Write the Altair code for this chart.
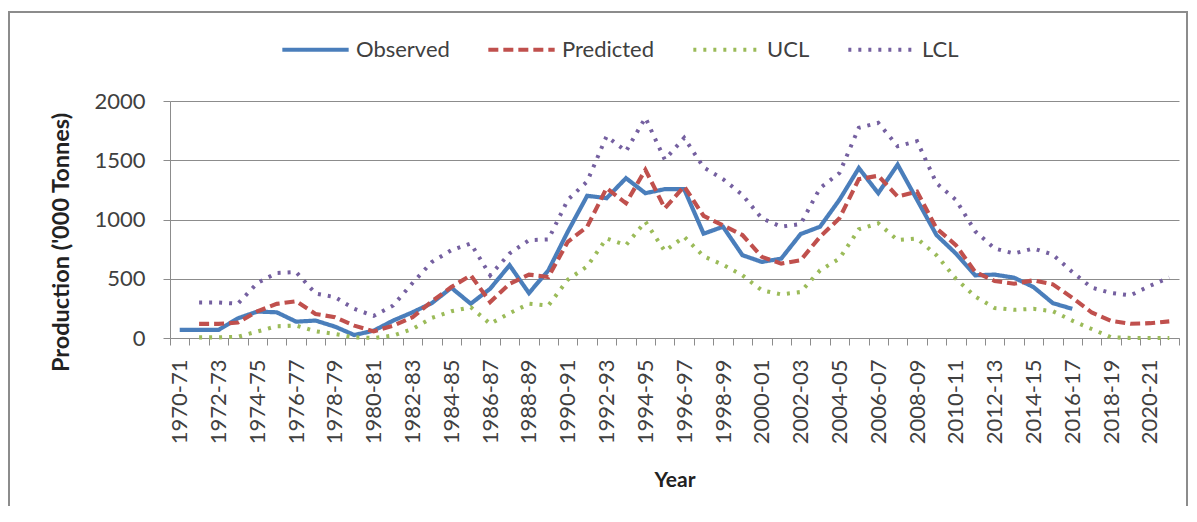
import altair as alt
import pandas as pd

YEARS = ["1970-71", "1971-72", "1972-73", "1973-74", "1974-75", "1975-76", "1976-77", "1977-78",
         "1978-79", "1979-80", "1980-81", "1981-82", "1982-83", "1983-84", "1984-85", "1985-86",
         "1986-87", "1987-88", "1988-89", "1989-90", "1990-91", "1991-92", "1992-93", "1993-94",
         "1994-95", "1995-96", "1996-97", "1997-98", "1998-99", "1999-00", "2000-01", "2001-02",
         "2002-03", "2003-04", "2004-05", "2005-06", "2006-07", "2007-08", "2008-09", "2009-10",
         "2010-11", "2011-12", "2012-13", "2013-14", "2014-15", "2015-16", "2016-17", "2017-18",
         "2018-19", "2019-20", "2020-21", "2021-22"]

# Observed: 1970-71 .. 2016-17
OBSERVED = [68, 68, 68, 166, 223, 217, 138, 147, 96, 25, 62, 147, 217, 295, 424, 289, 416, 614,
            379, 571, 897, 1200, 1180, 1349, 1222, 1256, 1256, 880, 939, 699, 642, 670, 877, 939,
            1166, 1434, 1222, 1463, 1166, 869, 713, 529, 535, 509, 430, 294, 246]

# Predicted / UCL / LCL: 1971-72 .. 2021-22
PREDICTED = [119, 119, 130, 225, 288, 310, 203, 175, 104, 56, 104, 175, 310, 430, 529, 303, 458,
             535, 515, 812, 939, 1265, 1137, 1420, 1095, 1279, 1030, 950, 869, 685, 628, 656, 854,
             1010, 1341, 1369, 1194, 1236, 925, 784, 557, 481, 458, 487, 453, 340, 215, 145, 120,
             125, 140]
UCL = [5, 5, 10, 55, 99, 105, 57, 34, 6, 0, 20, 76, 170, 226, 260, 119, 209, 289, 274, 492, 605,
       840, 784, 982, 733, 854, 690, 618, 529, 402, 368, 388, 571, 670, 917, 968, 826, 840, 699,
       501, 350, 253, 238, 246, 226, 147, 76, 6, 0, 0, 0]
LCL = [300, 300, 289, 464, 549, 557, 375, 345, 246, 187, 274, 464, 642, 741, 798, 529, 713, 826,
       832, 1166, 1321, 1703, 1576, 1859, 1505, 1689, 1440, 1341, 1208, 1010, 939, 962, 1265,
       1392, 1774, 1816, 1618, 1661, 1307, 1166, 900, 755, 713, 755, 704, 557, 425, 380, 360,
       440, 510]

SERIES = ["Observed", "Predicted", "UCL", "LCL"]
COLORS = ["#4A7EBB", "#C0504D", "#9BBB59", "#7560A0"]
DASHES = [[1, 0], [10, 5], [3, 7], [3, 7]]
WIDTHS = [4.2, 4, 3.2, 3.2]

rows = []
for y, v in zip(YEARS, OBSERVED):
    rows.append({"Year": y, "series": "Observed", "value": v})
for name, vals in [("Predicted", PREDICTED), ("UCL", UCL), ("LCL", LCL)]:
    for y, v in zip(YEARS[1:], vals):
        rows.append({"Year": y, "series": name, "value": v})
df = pd.DataFrame(rows)

FONT = "Lato"
legend = alt.Legend(
    title=None, orient="none", direction="horizontal", legendX=110, legendY=-87,
    symbolType="stroke", symbolSize=4400, symbolStrokeWidth=4, labelFont=FONT,
    labelFontSize=22, labelColor="#404040", columnPadding=30, labelOffset=5, padding=0,
)

lines = alt.Chart(df).mark_line(strokeJoin="miter").encode(
    x=alt.X("Year:O", sort=YEARS, bandPosition=0.5,
            scale=alt.Scale(type="band", paddingInner=0, paddingOuter=0),
            axis=alt.Axis(title="Year", labelAngle=270, tickBand="extent",
                          labelExpr="toNumber(slice(datum.label,0,4)) % 2 == 0 ? datum.label : ''",
                          labelOverlap=False, labelPadding=14, tickSize=7, titlePadding=26,
                          titleFontSize=21, grid=False)),
    y=alt.Y("value:Q", scale=alt.Scale(domain=[0, 2000], nice=False),
            axis=alt.Axis(title="Production ('000 Tonnes)", values=[0, 500, 1000, 1500, 2000],
                          format="d", tickSize=7, labelPadding=18, titlePadding=20,
                          titleFontSize=23.5, titleY=141, grid=True)),
    color=alt.Color("series:N", scale=alt.Scale(domain=SERIES, range=COLORS), legend=legend),
    strokeDash=alt.StrokeDash("series:N", scale=alt.Scale(domain=SERIES, range=DASHES), legend=legend),
    strokeWidth=alt.StrokeWidth("series:N", scale=alt.Scale(domain=SERIES, range=WIDTHS), legend=None),
    order=alt.Order("Year:O"),
)

frame = alt.Chart(df).mark_rect(filled=False, stroke="#8c8c8c", strokeWidth=2).encode(
    x=alt.value(-161), x2=alt.value(1017), y=alt.value(-89), y2=alt.value(440)
)

chart = alt.layer(frame, lines).properties(
    width=1009, height=237,
    autosize=alt.AutoSizeParams(type="none"),
    padding={"left": 162, "top": 93, "right": 10, "bottom": 168},
).configure_view(stroke=None).configure_axis(
    labelFont=FONT, labelFontSize=22, labelColor="#404040",
    titleFont=FONT, titleFontWeight="bold", titleColor="#222222",
    domainColor="#8c8c8c", tickColor="#8c8c8c", gridColor="#8c8c8c", gridWidth=1,
    domainWidth=1, tickWidth=1,
)

chart.save("out.html", embed_options={"renderer": "svg", "actions": False})
